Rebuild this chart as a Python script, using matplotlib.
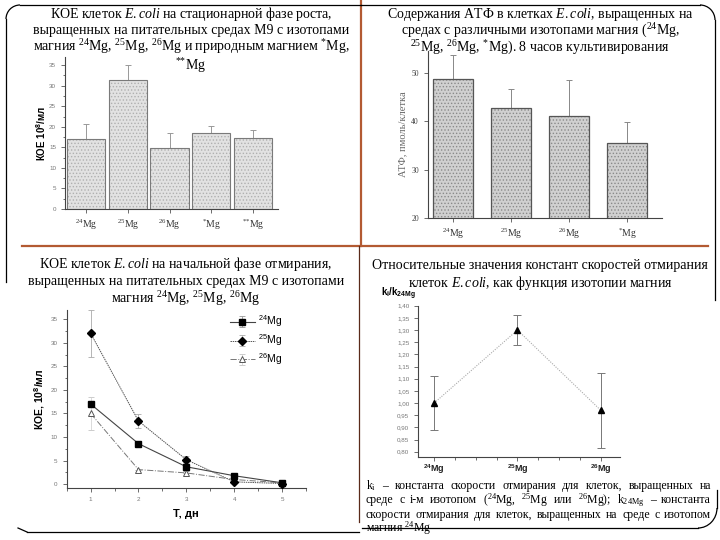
import matplotlib
matplotlib.use('Agg')
import matplotlib.pyplot as plt
from matplotlib.ticker import MultipleLocator, FuncFormatter
from matplotlib.patches import Arc

plt.rcParams['mathtext.fontset'] = 'custom'
plt.rcParams['mathtext.rm'] = 'Liberation Serif'
plt.rcParams['mathtext.it'] = 'Liberation Serif:italic'
plt.rcParams['mathtext.bf'] = 'Liberation Sans:bold'
plt.rcParams['mathtext.sf'] = 'Liberation Sans'
plt.rcParams['font.family'] = ['Liberation Serif', 'DejaVu Serif']
plt.rcParams['hatch.linewidth'] = 0.6

# ---------------- data ----------------
cfu_groups = [r'$^{24}$Mg', r'$^{25}$Mg', r'$^{26}$Mg', r'$^{*}$Mg', r'$^{{*}{*}}$Mg']
cfu_values = [17.0, 31.4, 14.8, 18.4, 17.4]
cfu_err = [3.8, 3.7, 3.6, 1.8, 1.8]

atp_groups = [r'$^{24}$Mg', r'$^{25}$Mg', r'$^{26}$Mg', r'$^{*}$Mg']
atp_values = [48.8, 42.8, 41.0, 35.4]
atp_err = [4.8, 3.9, 7.6, 4.5]

days = [1, 2, 3, 4, 5]
death_mg24 = [17.0, 8.6, 3.7, 1.8, 0.3]
death_mg25 = [32.0, 13.4, 5.2, 0.5, 0.15]
death_mg26 = [15.0, 3.1, 2.4, 1.0, 0.3]
death_mg24_err = [0.0, 0.4, 1.0, 0.3, 0.0]
death_mg25_err = [5.0, 1.4, 0.8, 0.0, 0.0]
death_mg26_err = [3.5, 0.0, 0.0, 0.0, 0.0]
death_labels = [r'$\mathsf{^{24}Mg}$', r'$\mathsf{^{25}Mg}$', r'$\mathsf{^{26}Mg}$']

ratio_groups = [r'$\mathbf{^{24}Mg}$', r'$\mathbf{^{25}Mg}$', r'$\mathbf{^{26}Mg}$']
ratio_values = [1.00, 1.30, 0.97]
ratio_err = [0.11, 0.06, 0.155]

W, H = 720, 540
fig = plt.figure(figsize=(7.2, 5.4), dpi=100)


def px_axes(x0, y0, x1, y1, **kw):
    return fig.add_axes([x0 / W, 1 - y1 / H, (x1 - x0) / W, (y1 - y0) / H], **kw)


def ftext(x, y, s, **kw):
    return fig.text(x / W, 1 - y / H, s, **kw)


# ---------------- decorations ----------------
bg = px_axes(0, 0, W, H, zorder=-5)
bg.set_xlim(0, W)
bg.set_ylim(H, 0)
bg.axis('off')
orange = '#b35a32'
bg.plot([361, 361], [0, 246], color=orange, lw=1.6)
bg.plot([22, 708], [246, 246], color=orange, lw=1.6)
bg.plot([359, 359], [246, 522], color='#5a2a1a', lw=0.9)
k = dict(color='black', lw=0.9)
bg.plot([20, 361], [5, 5], **k)
bg.plot([6, 6], [19, 282], **k)
bg.add_patch(Arc((20, 19), 28, 28, theta1=180, theta2=270, **k))
bg.plot([361, 700], [5, 5], **k)
bg.plot([715, 715], [20, 300], **k)
bg.add_patch(Arc((700, 20), 30, 30, theta1=270, theta2=360, **k))
bg.plot([27, 359], [532, 532], **k)
bg.plot([18, 27], [528, 532], **k)
bg.plot([362, 698], [528, 528], **k)
bg.add_patch(Arc((698, 508), 38, 40, theta1=0, theta2=90, **k))
bg.plot([717, 717], [508, 490], **k)

gray_tick = '#777777'


def style_axes(ax, lab_color, lab_size, lab_family):
    for s in ['top', 'right']:
        ax.spines[s].set_visible(False)
    for s in ['left', 'bottom']:
        ax.spines[s].set_color('#444444')
        ax.spines[s].set_linewidth(0.8)
    ax.tick_params(which='both', direction='out', colors='#555555', width=0.6,
                   labelsize=lab_size, labelcolor=lab_color)
    ax.tick_params(which='major', length=3)
    ax.tick_params(which='minor', length=1.8)
    for t in ax.get_xticklabels() + ax.get_yticklabels():
        t.set_family(lab_family)


def title_lines(xc, y_base0, step, lines, fs=10):
    for i, s in enumerate(lines):
        ftext(xc, y_base0 + step * i, s, ha='center', va='baseline', fontsize=fs)


# ---------------- panel 1 : CFU stationary ----------------
title_lines(191, 18, 16.4, [r'КОЕ клеток $\mathit{E.coli}$ на стационарной фазе роста,',
                            r'выращенных на питательных средах М9 с изотопами',
                            r'магния $^{24}$Mg, $^{25}$Mg, $^{26}$Mg и природным магнием $^{*}$Mg,'])
ftext(191, 70, r'$^{{*}{*}}$Mg', ha='center', va='baseline', fontsize=10)

ax1 = px_axes(65, 57, 278, 209)
x1 = list(range(1, len(cfu_values) + 1))
ax1.bar(x1, cfu_values, width=0.92, color='#e2e2e2', edgecolor='#b0b0b0',
        hatch='.....', linewidth=0, zorder=2)
ax1.bar(x1, cfu_values, width=0.92, fill=False, edgecolor='#7a7a7a',
        linewidth=0.8, zorder=3)
ax1.errorbar(x1, cfu_values, yerr=[[0] * len(cfu_err), cfu_err], fmt='none',
             ecolor='#999999', elinewidth=0.7, capsize=2.5, capthick=0.7, zorder=1)
ax1.set_xlim(0.49, 5.6)
ax1.set_ylim(0, 37)
ax1.set_xticks(x1)
ax1.set_xticklabels(cfu_groups)
ax1.yaxis.set_major_locator(MultipleLocator(5))
ax1.yaxis.set_minor_locator(MultipleLocator(2.5))
style_axes(ax1, gray_tick, 4.5, 'Liberation Sans')
for t in ax1.get_xticklabels():
    t.set_family('Liberation Serif')
    t.set_fontsize(7)
    t.set_color('#333333')
ax1.set_ylabel(r'КОЕ 10$^{\mathbf{8}}$/мл', family='Liberation Sans',
               fontweight='bold', fontsize=7, labelpad=1)

# ---------------- panel 2 : ATP ----------------
title_lines(540, 18, 17, [r'Содержания АТФ в клетках $\mathit{E.coli}$, выращенных на',
                          r'средах с различными изотопами магния ($^{24}$Mg,',
                          r'$^{25}$Mg, $^{26}$Mg, $^{*}$Mg). 8 часов культивирования'])

ax2 = px_axes(428, 51, 662, 218)
x2 = list(range(1, len(atp_values) + 1))
ax2.bar(x2, atp_values, width=0.68, color='#d0d0d0', edgecolor='#8a8a8a',
        hatch='.....', linewidth=0, zorder=2)
ax2.bar(x2, atp_values, width=0.68, fill=False, edgecolor='#555555',
        linewidth=0.9, zorder=3)
ax2.errorbar(x2, atp_values, yerr=[[0] * len(atp_err), atp_err], fmt='none',
             ecolor='#888888', elinewidth=0.7, capsize=2.5, capthick=0.7, zorder=1)
ax2.set_xlim(0.57, 4.6)
ax2.set_ylim(20, 54.5)
ax2.set_xticks(x2)
ax2.set_xticklabels(atp_groups)
ax2.set_yticks([20, 30, 40, 50])
style_axes(ax2, '#444444', 5.5, 'Liberation Serif')
for t in ax2.get_xticklabels():
    t.set_fontsize(7)
    t.set_color('#333333')
ax2.set_ylabel('АТФ, пмоль/клетка', fontsize=7.5, color='#666666', labelpad=3)

# ---------------- panel 3 : death phase ----------------
title_lines(186, 268, 17.5, [r'КОЕ клеток $\mathit{E.coli}$ на начальной фазе отмирания,',
                             r'выращенных на питательных средах М9 с изотопами',
                             r'магния $^{24}$Mg, $^{25}$Mg, $^{26}$Mg'])

ax3 = px_axes(66.7, 309.7, 306, 488)
ax3.errorbar(days, death_mg24, yerr=death_mg24_err, color='#444444', lw=0.8,
             marker='s', ms=4.5, mfc='black', mec='black', ecolor='#999999',
             elinewidth=0.6, capsize=2, capthick=0.6, label=death_labels[0], zorder=4)
ax3.errorbar(days, death_mg25, yerr=death_mg25_err, color='#555555', lw=0.7,
             linestyle=(0, (1.5, 0.8)), marker='D', ms=4.5, mfc='black', mec='black',
             ecolor='#aaaaaa', elinewidth=0.6, capsize=2, capthick=0.6,
             label=death_labels[1], zorder=5)
ax3.errorbar(days, death_mg26, yerr=death_mg26_err, color='#777777', lw=0.7,
             linestyle='-.', marker='^', ms=4.5, mfc='white', mec='#555555',
             mew=0.7, ecolor='#cccccc', elinewidth=0.5, capsize=2, capthick=0.5,
             label=death_labels[2], zorder=3)
ax3.set_xlim(0.5, 5.5)
ax3.set_ylim(-0.8, 37)
ax3.xaxis.set_major_locator(MultipleLocator(1))
ax3.xaxis.set_minor_locator(MultipleLocator(0.5))
ax3.yaxis.set_major_locator(MultipleLocator(5))
ax3.yaxis.set_minor_locator(MultipleLocator(2.5))
ax3.set_yticks(range(0, 36, 5))
style_axes(ax3, gray_tick, 4.5, 'Liberation Sans')
ax3.set_xlabel('Т, дн', family='Liberation Sans', fontweight='bold',
               fontsize=8, labelpad=5)
ax3.set_ylabel(r'КОЕ, 10$^{\mathbf{8}}$/мл', family='Liberation Sans',
               fontweight='bold', fontsize=7.5, labelpad=3)
leg = ax3.legend(loc='upper left', bbox_to_anchor=(0.65, 1.02), frameon=False,
                 fontsize=7.5, handlelength=2.4, handletextpad=0.3,
                 labelspacing=0.3, borderpad=0.2)

# ---------------- panel 4 : relative rate constants ----------------
title_lines(540, 269, 18, [r'Относительные значения констант скоростей отмирания',
                           r'клеток $\mathit{E.coli}$, как функция изотопии магния'])

ax4 = px_axes(418.3, 305.7, 620, 456.6)
x4 = list(range(1, len(ratio_values) + 1))
ax4.plot(x4, ratio_values, color='#aaaaaa', lw=0.8, linestyle=(0, (1, 1.2)), zorder=2)
ax4.errorbar(x4, ratio_values, yerr=ratio_err, fmt='^', ms=5, mfc='black',
             mec='black', ecolor='#777777', elinewidth=0.7, capsize=3,
             capthick=0.7, zorder=3)
ax4.set_xlim(0.81, 3.23)
ax4.set_ylim(0.78, 1.40)
ax4.set_xticks(x4)
ax4.set_xticklabels(ratio_groups)
ax4.xaxis.set_minor_locator(MultipleLocator(0.25))
ax4.set_yticks([0.80 + 0.05 * i for i in range(13)])
ax4.yaxis.set_major_formatter(FuncFormatter(lambda v, p: f'{v:.2f}'.replace('.', ',')))
style_axes(ax4, gray_tick, 4.5, 'Liberation Sans')
ax4.tick_params(axis='x', pad=1)
for t in ax4.get_xticklabels():
    t.set_fontsize(6.5)
    t.set_color('#222222')
ftext(398, 294, r'$\mathbf{k_i/k_{24Mg}}$', ha='center', va='center', fontsize=7)

# ---------------- footnote (justified) ----------------
foot = [r'k$_{\mathrm{i}}$ – константа скорости отмирания для клеток, выращенных на',
        r'среде с i-м изотопом ($^{24}$Mg, $^{25}$Mg  или $^{26}$Mg);  k$_{\mathrm{24Mg}}$ – константа',
        r'скорости отмирания для клеток, выращенных на среде с изотопом',
        r'магния $^{24}$Mg']
renderer = fig.canvas.get_renderer()
fx0, fx1 = 366, 711
for i, line in enumerate(foot):
    y = 489 + 14.3 * i
    if i == len(foot) - 1:
        ftext(fx0, y, line, ha='left', va='baseline', fontsize=8.5)
        continue
    words = line.split()
    objs = [ftext(0, y, w, ha='left', va='baseline', fontsize=8.5) for w in words]
    widths = [o.get_window_extent(renderer).width for o in objs]
    gap = (fx1 - fx0 - sum(widths)) / max(1, len(words) - 1)
    xx = fx0
    for o, wd in zip(objs, widths):
        o.set_x(xx / W)
        xx += wd + gap

fig.savefig('out.png', dpi=100)
